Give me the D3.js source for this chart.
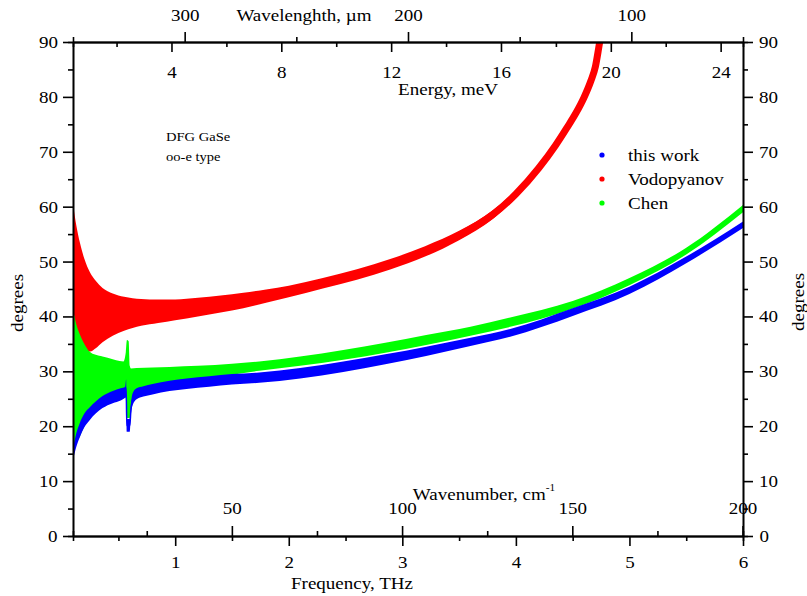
<!DOCTYPE html>
<html>
<head>
<meta charset="utf-8">
<script src="https://cdn.jsdelivr.net/npm/d3@7"></script>
<style>
    body { margin: 0; background: #fff; }
    svg text {
        font-family: "Liberation Serif", "Times New Roman", serif;
        fill: #000;
        transform-box: fill-box;
        transform-origin: center;
        transform: scaleX(1.12);
    }
    svg text.start { transform-origin: left center; }
</style>
</head>
<body>
<svg></svg>
<script>
// band edges (degrees), x in THz
const redFreq = [0.1, 0.13, 0.16, 0.2, 0.25, 0.3, 0.36, 0.45, 0.55, 0.7, 0.85, 1.0, 1.2, 1.4, 1.6, 1.8, 2.0, 2.3, 2.6, 2.9, 3.2, 3.5, 3.8, 4.0, 4.2, 4.35, 4.45, 4.53, 4.6, 4.66, 4.7, 4.73, 4.76];
const redUpper = [60.5, 56.5, 53.5, 50.5, 48, 46.5, 45.2, 44.2, 43.6, 43.2, 43.1, 43.1, 43.4, 43.8, 44.3, 44.9, 45.6, 47.0, 48.6, 50.5, 52.8, 55.6, 59.4, 63.0, 67.7, 71.9, 75.1, 77.8, 80.6, 83.6, 86.2, 89.7, 93.5];
const redLower = [42, 37, 35, 34, 33.6, 34.2, 35.3, 36.5, 37.4, 38.3, 38.8, 39.3, 40.0, 40.7, 41.5, 42.5, 43.5, 45.1, 46.7, 48.6, 50.9, 53.9, 57.8, 61.6, 66.3, 70.5, 73.7, 76.4, 79.2, 82.2, 84.8, 88.3, 92.1];

const greenFreq = [0.1, 0.13, 0.157, 0.2, 0.245, 0.3, 0.36, 0.45, 0.51, 0.545, 0.565, 0.575, 0.59, 0.6, 0.61, 0.66, 0.8, 0.95, 1.2, 1.5, 1.74, 2.1, 2.48, 2.85, 3.21, 3.6, 3.95, 4.5, 5.0, 5.5, 6.0];
const greenUpper = [41.2, 38.5, 36.9, 35, 33.6, 33.0, 32.7, 32.2, 31.9, 31.8, 33.5, 35.7, 35.5, 31.0, 30.5, 30.6, 30.7, 30.8, 31.0, 31.4, 31.8, 32.7, 33.9, 35.2, 36.6, 38.1, 39.8, 42.8, 47.0, 52.5, 60.3];
const greenLower = [16, 17, 18, 20, 21.5, 23, 24, 25, 25.5, 26, 25, 21.5, 21.5, 21.5, 23, 26.3, 27.4, 28.0, 28.7, 29.4, 30.1, 31.0, 32.1, 33.4, 34.8, 36.5, 38.1, 41.4, 45.7, 51.3, 59.0];

const blueFreq = [0.1, 0.13, 0.16, 0.2, 0.25, 0.3, 0.36, 0.45, 0.52, 0.56, 0.568, 0.574, 0.6, 0.61, 0.625, 0.66, 0.72, 0.8, 0.95, 1.1, 1.3, 1.5, 1.74, 2.1, 2.48, 2.85, 3.21, 3.6, 3.95, 4.5, 5.0, 5.5, 6.0];
const blueUpper = [16, 18.8, 20.6, 22.3, 23.5, 24.5, 25.5, 26.4, 26.9, 27.2, 28.5, 21.3, 21.3, 24.0, 26.0, 26.9, 27.3, 27.7, 28.3, 28.7, 29.1, 29.5, 29.8, 30.6, 31.8, 33.1, 34.5, 36.1, 37.7, 41.5, 45.4, 50.9, 57.3];
const blueLower = [13.8, 16.3, 18.0, 19.8, 21.2, 22.3, 23.3, 24.2, 24.7, 25.2, 25.3, 19.0, 19.0, 22.0, 23.8, 24.9, 25.4, 25.8, 26.4, 26.8, 27.2, 27.6, 27.9, 28.7, 29.9, 31.3, 32.8, 34.6, 36.3, 40.1, 44.1, 49.7, 56.1];

const seriesNames = ["this work", "Vodopyanov", "Chen"];
const seriesColors = ["#0000ff", "#ff0000", "#00ff00"];

const degreeTicks = [0, 10, 20, 30, 40, 50, 60, 70, 80, 90];
const degreeMinor = [5, 15, 25, 35, 45, 55, 65, 75, 85];
const freqTicks = [1, 2, 3, 4, 5, 6];
const freqMinor = [0.5, 1.5, 2.5, 3.5, 4.5, 5.5];
const waveNumTicks = [50, 100, 150, 200];
const waveNumMinor = [25, 75, 125, 175];
const energyTicks = [4, 8, 12, 16, 20, 24];
const energyMinor = [2, 6, 10, 14, 18, 22];
const lambdaTicks = [300, 200, 100];
const lambdaMinor = [250, 150];

const width = 807,
    height = 596;
const plotLeft = 73,
    plotRight = 743,
    plotTop = 42,
    plotBottom = 536;
const fMin = 0.1,
    fMax = 6;

const svg = d3.select("svg").attr("width", width).attr("height", height);

const xScale = d3.scaleLinear().domain([fMin, fMax]).range([plotLeft, plotRight]);
const yScale = d3.scaleLinear().domain([0, 90]).range([plotBottom, plotTop]);
const waveNumScale = d3.scaleLinear().domain([fMin * 33.356, fMax * 33.356]).range([plotLeft, plotRight]);
const energyScale = d3.scaleLinear().domain([fMin * 4.1357, fMax * 4.1357]).range([plotLeft, plotRight]);
const lambdaScale = d3.scaleLinear().domain([350, 50]).range([plotLeft, plotRight]);

svg.append("clipPath")
    .attr("id", "plot")
    .append("rect")
    .attr("x", plotLeft)
    .attr("y", plotTop)
    .attr("width", plotRight - plotLeft)
    .attr("height", plotBottom - plotTop);

const plot = svg.append("g").attr("clip-path", "url(#plot)");

const drawBand = (freq, upper, lower, color, lineWidth) => {
    const rows = freq.map((f, i) => ({ f: f, hi: upper[i], lo: lower[i] }));
    const area = d3
        .area()
        .x((d) => xScale(d.f))
        .y0((d) => yScale(d.lo))
        .y1((d) => yScale(d.hi))
        .curve(d3.curveMonotoneX);
    const mid = d3
        .line()
        .x((d) => xScale(d.f))
        .y((d) => yScale((d.hi + d.lo) / 2))
        .curve(d3.curveMonotoneX);
    plot.append("path").datum(rows).attr("d", area).attr("fill", color);
    plot.append("path")
        .datum(rows)
        .attr("d", mid)
        .attr("fill", "none")
        .attr("stroke", color)
        .attr("stroke-width", lineWidth)
        .attr("stroke-linecap", "round");
};

drawBand(redFreq, redUpper, redLower, seriesColors[1], 7);
drawBand(greenFreq, greenUpper, greenLower, seriesColors[2], 1.5);
drawBand(blueFreq, blueUpper, blueLower, seriesColors[0], 1.5);

// axes
const styleAxis = (g) => {
    g.attr("font-family", null).attr("font-size", null);
    g.select(".domain").attr("stroke", "#000").attr("stroke-width", 1.6);
    g.selectAll(".tick line").attr("stroke", "#000").attr("stroke-width", 1.6);
    g.selectAll("text").attr("font-size", "17px");
};

const addAxis = (axis, ticks, minor, pad, transform) => {
    const major = svg.append("g")
        .attr("transform", transform)
        .call(axis.tickValues(ticks).tickSize(10).tickSizeOuter(0).tickPadding(pad).tickFormat(d3.format("d")));
    styleAxis(major);
    const small = svg.append("g")
        .attr("transform", transform)
        .call(axis.tickValues(minor).tickSize(5).tickFormat(""));
    styleAxis(small);
};

addAxis(d3.axisLeft(yScale), degreeTicks, degreeMinor, 6, "translate(" + plotLeft + ",0)");
addAxis(d3.axisRight(yScale), degreeTicks, degreeMinor, 7, "translate(" + plotRight + ",0)");
addAxis(d3.axisBottom(xScale), freqTicks, freqMinor, 9.5, "translate(0," + plotBottom + ")");
addAxis(d3.axisTop(waveNumScale), waveNumTicks, waveNumMinor, 12, "translate(0," + plotBottom + ")");
addAxis(d3.axisBottom(energyScale), energyTicks, energyMinor, 13.5, "translate(0," + plotTop + ")");
addAxis(d3.axisTop(lambdaScale), lambdaTicks, lambdaMinor, 11, "translate(0," + plotTop + ")");

// axis titles
const addText = (x, y, txt, size, anchor) =>
    svg.append("text")
        .attr("x", x)
        .attr("y", y)
        .attr("font-size", size)
        .attr("text-anchor", anchor || "middle")
        .attr("class", anchor === "start" ? "start" : null)
        .text(txt);

addText(352, 589, "Frequency, THz", "17px");
addText(448, 95, "Energy, meV", "17px");
addText(304, 21, "Wavelenghth, \u00b5m", "17px");

const waveTitle = addText(484, 500, "Wavenumber, cm", "17px");
waveTitle.append("tspan").attr("dy", -9).attr("font-size", "10px").text("-1");

const sideTitle = (x, y) =>
    svg.append("g")
        .attr("transform", "translate(" + x + "," + y + ") rotate(-90)")
        .append("text")
        .attr("text-anchor", "middle")
        .attr("dominant-baseline", "central")
        .attr("font-size", "17px")
        .text("degrees");

sideTitle(17, 303);
sideTitle(798, 302);

addText(166, 141, "DFG GaSe", "13px", "start");
addText(166, 161, "oo-e type", "13px", "start");

// legend
const legend = svg.append("g");
seriesNames.forEach((name, i) => {
    const y = 155 + i * 24;
    legend.append("circle").attr("cx", 602).attr("cy", y).attr("r", 2.6).attr("fill", seriesColors[i]);
    legend.append("text")
        .attr("class", "start")
        .attr("x", 628)
        .attr("y", y)
        .attr("dominant-baseline", "central")
        .attr("font-size", "17px")
        .text(name);
});
</script>
</body>
</html>
